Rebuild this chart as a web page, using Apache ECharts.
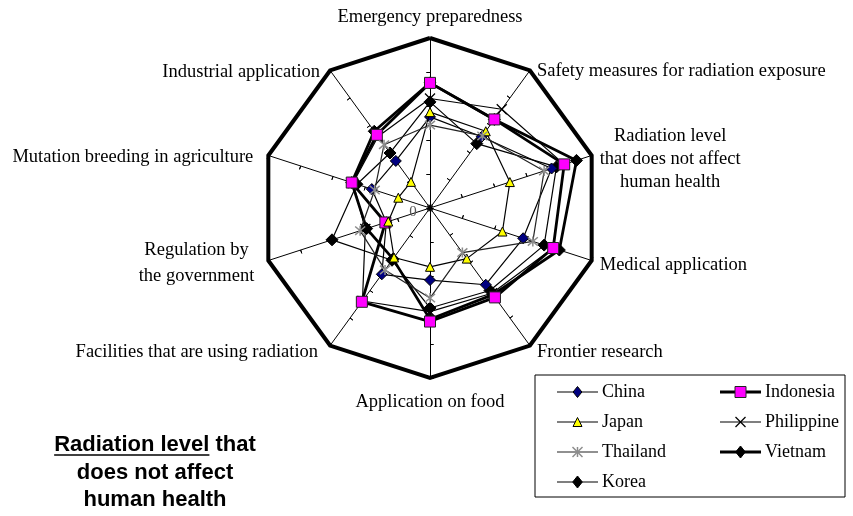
<!DOCTYPE html>
<html>
<head>
<meta charset="utf-8">
<script src="https://cdn.jsdelivr.net/npm/echarts@6/dist/echarts.min.js"></script>
<style>
html,body{margin:0;padding:0;background:#fff}
#chart{width:853px;height:516px}
</style>
</head>
<body>
<div id="chart"></div>
<script>
// Survey axes, listed clockwise from the top
const categories = [
  'Emergency preparedness',
  'Safety measures for radiation exposure',
  'Radiation level\nthat does not affect\nhuman health',
  'Medical application',
  'Frontier research',
  'Application on food',
  'Facilities that are using radiation',
  'Regulation by\nthe government',
  'Mutation breeding in agriculture',
  'Industrial application'
];
const scaleMin = 0;
const scaleMax = 5;
const tickLabels = ['0'];

// Scores per country, same order as categories
const china       = [2.68, 2.59, 3.76, 2.88, 2.79, 2.12, 2.41, 1.35, 1.80, 1.71];
const indonesia   = [3.68, 3.22, 4.15, 3.81, 3.25, 3.34, 3.41, 1.38, 2.42, 2.66];
const japan       = [2.82, 2.79, 2.47, 2.24, 1.84, 1.73, 1.80, 1.29, 0.98, 0.95];
const philippine  = [3.22, 3.59, 4.15, 3.81, 3.10, 3.05, 3.38, 2.00, 2.38, 2.60];
const thailand    = [2.44, 2.62, 3.53, 3.18, 1.62, 2.65, 2.25, 2.16, 1.71, 2.30];
const vietnam     = [3.68, 3.22, 4.53, 4.00, 3.15, 3.27, 1.85, 1.96, 2.42, 2.79];
const korea       = [3.12, 2.34, 3.91, 3.53, 3.00, 2.94, 1.90, 3.03, 2.26, 2.00];

const legendNames = ['China', 'Indonesia', 'Japan', 'Philippine', 'Thailand', 'Vietnam', 'Korea'];

const boldLines = ['Radiation level that', 'does not affect', 'human health'];
const underlinedPart = 'Radiation level';

// Radar geometry
const CX = 430, CY = 208, R = 170;

// ECharts lays radar indicators out counter-clockwise; reorder so they run clockwise
const order = categories.map((_, i) => (categories.length - i) % categories.length);
const cw = arr => order.map(i => arr[i]);

const SERIF = '"Liberation Serif", "Times New Roman", serif';
const SANS = '"Liberation Sans", Arial, sans-serif';
const NAME_FONT = '18.5px ' + SERIF;

const PATH_X = 'path://M0,0L10,10M10,0L0,10';
const PATH_STAR = 'path://M5,0L5,10M0.8,0.8L9.2,9.2M9.2,0.8L0.8,9.2';

const styles = {
  China:      {data: china,      symbol: 'diamond',  size: 11, fill: '#000080', border: '#000', bw: 1,   line: '#000', lw: 1.2, z: 4},
  Indonesia:  {data: indonesia,  symbol: 'rect',     size: 11, fill: '#FF00FF', border: '#222', bw: 1,   line: '#000', lw: 2.8, z: 5},
  Japan:      {data: japan,      symbol: 'triangle', size: 9,  fill: '#FFFF00', border: '#000', bw: 1,   line: '#000', lw: 1.2, z: 6},
  Philippine: {data: philippine, symbol: PATH_X,     size: 10, fill: 'rgba(0,0,0,0)', border: '#000', bw: 1.3, line: '#000', lw: 1.2, z: 3},
  Thailand:   {data: thailand,   symbol: PATH_STAR,  size: 10, fill: 'rgba(0,0,0,0)', border: '#8c8c8c', bw: 1.5, line: '#222', lw: 1.2, z: 7},
  Vietnam:    {data: vietnam,    symbol: 'diamond',  size: 12, fill: '#000', border: '#000', bw: 1,   line: '#000', lw: 2.8, z: 1},
  Korea:      {data: korea,      symbol: 'diamond',  size: 12, fill: '#000', border: '#000', bw: 1,   line: '#000', lw: 1.2, z: 2}
};

const chart = echarts.init(document.getElementById('chart'), null, {renderer: 'canvas'});

const series = legendNames.map(name => {
  const s = styles[name];
  return {
    type: 'radar',
    name: name,
    radarIndex: 0,
    z: 2 + s.z * 0.1,
    symbol: s.symbol,
    symbolSize: s.size,
    silent: true,
    lineStyle: {color: s.line, width: s.lw},
    itemStyle: {color: s.fill, borderColor: s.border, borderWidth: s.bw},
    emphasis: {disabled: true},
    data: [{name: name, value: cw(s.data)}]
  };
});
series.sort((a, b) => a.z - b.z);

const meas = document.createElement('canvas').getContext('2d');
function textWidth(t, font) {
  meas.font = font;
  return Math.max.apply(null, t.split('\n').map(l => meas.measureText(l).width));
}

// Axis names: placed next to each outer vertex (side, dx, dy from the vertex, line height)
const nameLayout = [
  {side: 'center', dx: 0,   dy: -21, lh: 23},
  {side: 'left',   dx: 7,   dy: 0.5, lh: 23},
  {side: 'left',   dx: 8,   dy: 3.5, lh: 23},
  {side: 'left',   dx: 8,   dy: 4.5, lh: 23},
  {side: 'left',   dx: 7,   dy: 6.5, lh: 23},
  {side: 'center', dx: 0,   dy: 24,  lh: 23},
  {side: 'right',  dx: -12, dy: 6.5, lh: 23},
  {side: 'right',  dx: -14, dy: 2.5, lh: 26},
  {side: 'right',  dx: -15, dy: 1.5, lh: 23},
  {side: 'right',  dx: -10, dy: 1.5, lh: 23}
];
const nameGraphics = categories.map((name, i) => {
  const a = i * 2 * Math.PI / categories.length;
  const vx = CX + R * Math.sin(a), vy = CY - R * Math.cos(a);
  const L = nameLayout[i];
  const w = textWidth(name, NAME_FONT);
  let x = vx + L.dx;
  if (L.side === 'left') x += w / 2;
  if (L.side === 'right') x -= w / 2;
  return {type: 'text', style: {text: name, x: x, y: vy + L.dy, textAlign: 'center', textVerticalAlign: 'middle', font: NAME_FONT, lineHeight: L.lh, fill: '#000'}};
});

// Legend entries: line sample, marker, country name
const box = {x: 535, y: 375, w: 310, h: 122};
const legendGraphics = [{
  type: 'rect', shape: {x: box.x, y: box.y, width: box.w, height: box.h},
  style: {fill: '#fff', stroke: '#000', lineWidth: 1}
}];
function markerShapes(s, cx, cy) {
  const out = [];
  const h = s.size / 2;
  const st = {fill: s.fill, stroke: s.border, lineWidth: s.bw};
  if (s.symbol === 'diamond') {
    out.push({type: 'polygon', shape: {points: [[cx, cy - h], [cx + h * 0.8, cy], [cx, cy + h], [cx - h * 0.8, cy]]}, style: st});
  } else if (s.symbol === 'rect') {
    out.push({type: 'rect', shape: {x: cx - h, y: cy - h, width: s.size, height: s.size}, style: st});
  } else if (s.symbol === 'triangle') {
    out.push({type: 'polygon', shape: {points: [[cx, cy - h], [cx + h, cy + h], [cx - h, cy + h]]}, style: st});
  } else {
    const segs = [[[-h, -h], [h, h]], [[h, -h], [-h, h]]];
    if (s.symbol === PATH_STAR) segs.push([[0, -h], [0, h]]);
    segs.forEach(p => out.push({type: 'line', shape: {x1: cx + p[0][0], y1: cy + p[0][1], x2: cx + p[1][0], y2: cy + p[1][1]}, style: {stroke: s.border, lineWidth: s.bw}}));
  }
  return out;
}
legendNames.forEach((name, i) => {
  const s = styles[name];
  const col = i % 2, row = Math.floor(i / 2);
  const x0 = col === 0 ? 557 : 720;
  const y = 392 + row * 30;
  legendGraphics.push({type: 'line', shape: {x1: x0, y1: y, x2: x0 + 41, y2: y}, style: {stroke: s.line, lineWidth: s.lw}});
  markerShapes(s, x0 + 20.5, y).forEach(g => legendGraphics.push(g));
  legendGraphics.push({type: 'text', style: {text: name, x: x0 + 45, y: y, textVerticalAlign: 'middle', font: '18px ' + SERIF, fill: '#000'}});
});

// Caption in the lower left, first words underlined
const capFont = 'bold 22px ' + SANS;
const capX = 155;
const capGraphics = [];
boldLines.forEach((t, i) => {
  capGraphics.push({type: 'text', style: {text: t, x: capX, y: 445 + i * 27.5, textAlign: 'center', textVerticalAlign: 'middle', font: capFont, fill: '#000'}});
});
const fullW = textWidth(boldLines[0], capFont);
const partW = textWidth(underlinedPart, capFont);
capGraphics.push({type: 'line', shape: {x1: capX - fullW / 2, y1: 455, x2: capX - fullW / 2 + partW, y2: 455}, style: {stroke: '#000', lineWidth: 1.3}});

const indicators = order.map(i => ({name: categories[i], min: scaleMin, max: scaleMax}));
const hidden = {show: false};

chart.setOption({
  animation: false,
  backgroundColor: '#fff',
  radar: [
    {
      center: [CX, CY],
      radius: R,
      startAngle: 90,
      shape: 'polygon',
      splitNumber: 5,
      indicator: indicators,
      axisName: hidden,
      axisLine: {lineStyle: {color: '#000', width: 1}},
      axisTick: {show: true, length: 3.5, lineStyle: {color: '#000', width: 1}},
      axisLabel: hidden,
      splitLine: {lineStyle: {color: ['rgba(0,0,0,0)', 'rgba(0,0,0,0)', 'rgba(0,0,0,0)', 'rgba(0,0,0,0)', 'rgba(0,0,0,0)', '#000'], width: 4}},
      splitArea: hidden
    },
    {
      // second copy of the same axes: tick marks on the other side, so they cross each axis
      center: [CX, CY],
      radius: R,
      startAngle: 90,
      shape: 'polygon',
      splitNumber: 5,
      indicator: indicators,
      axisName: hidden,
      axisLine: hidden,
      axisTick: {show: true, inside: true, length: 3.5, lineStyle: {color: '#000', width: 1}},
      axisLabel: hidden,
      splitLine: hidden,
      splitArea: hidden
    }
  ],
  series: series,
  graphic: [
    {type: 'text', z: 1, style: {text: tickLabels[0], x: 413, y: 212, textAlign: 'center', textVerticalAlign: 'middle', font: '15px ' + SERIF, fill: '#555'}},
    {type: 'group', children: nameGraphics},
    {type: 'group', children: legendGraphics},
    {type: 'group', children: capGraphics}
  ]
});
</script>
</body>
</html>
